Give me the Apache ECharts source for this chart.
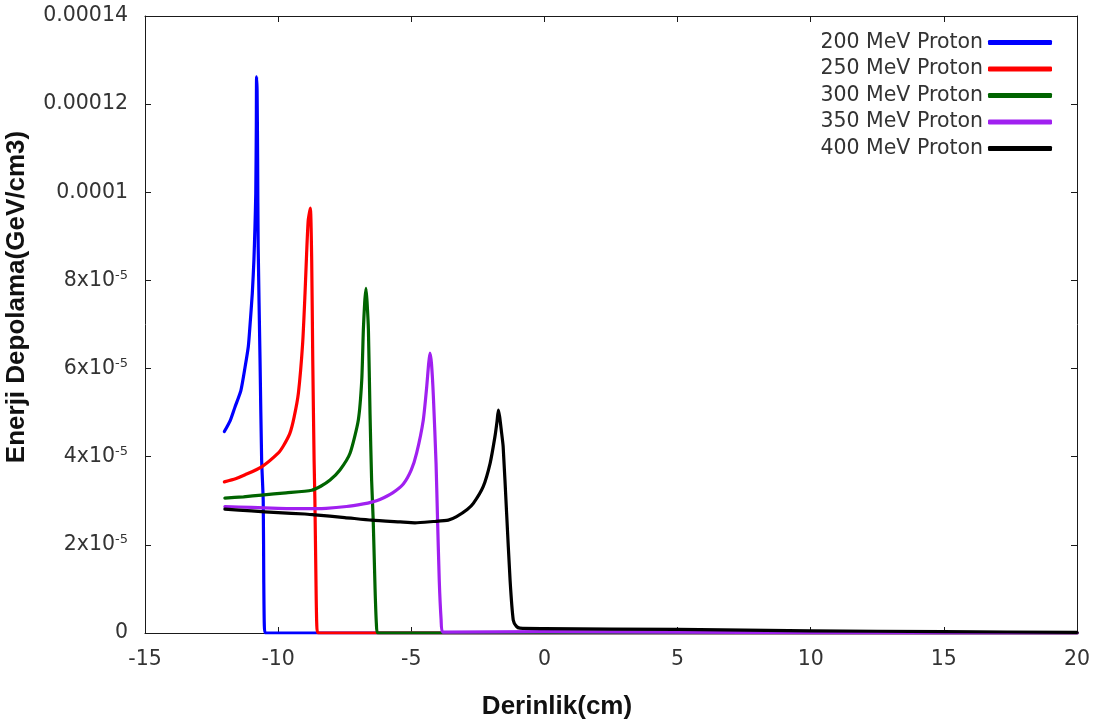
<!DOCTYPE html>
<html>
<head>
<meta charset="utf-8">
<script src="https://cdn.jsdelivr.net/npm/echarts@6/dist/echarts.min.js"></script>
<style>html,body{margin:0;padding:0;background:#fff;}#c{width:1105px;height:724px;}</style>
</head>
<body>
<div id="c"></div>
<script>
var seriesNames = ['200 MeV Proton','250 MeV Proton','300 MeV Proton','350 MeV Proton','400 MeV Proton'];
var xTickLabels = ['-15','-10','-5','0','5','10','15','20'];
var yTickLabels = ['0','2x10{sup|-5}','4x10{sup|-5}','6x10{sup|-5}','8x10{sup|-5}','0.0001','0.00012','0.00014'];

var x200 = [-12.02,-11.8,-11.62,-11.4,-11.24,-11.12,-11.06,-10.97,-10.91,-10.87,-10.84,-10.82,-10.81,-10.79,-10.77,-10.75,-10.68,-10.62,-10.56,-10.54,-10.52,-10.48,0,10,20];
var y200 = [4.57e-5,4.82e-5,5.13e-5,5.5e-5,6.04e-5,6.5e-5,6.95e-5,7.71e-5,8.46e-5,9.22e-5,9.98e-5,1.149e-4,1.262e-4,1.23e-4,1.073e-4,8.77e-5,6.19e-5,3.93e-5,3.0e-5,1.2e-5,2e-6,0,0,0,0];

var x250 = [-12.02,-11.6,-11.24,-10.62,-10.0,-9.8,-9.56,-9.4,-9.24,-9.08,-8.99,-8.93,-8.87,-8.79,-8.74,-8.70,-8.65,-8.62,-8.58,-8.55,-8.5,0,10,20];
var y250 = [3.43e-5,3.5e-5,3.59e-5,3.77e-5,4.08e-5,4.25e-5,4.53e-5,4.9e-5,5.44e-5,6.57e-5,7.71e-5,8.62e-5,9.37e-5,9.64e-5,8.46e-5,6.19e-5,3.93e-5,3.02e-5,1.2e-5,2e-6,0,0,0,0];

var x300 = [-12.0,-11.3,-10.62,-9.7,-8.74,-8.4,-8.05,-7.68,-7.30,-6.99,-6.86,-6.80,-6.75,-6.70,-6.66,-6.61,-6.55,-6.49,-6.43,-6.36,-6.31,-6.26,0,10,20];
var y300 = [3.06e-5,3.09e-5,3.13e-5,3.18e-5,3.24e-5,3.33e-5,3.47e-5,3.70e-5,4.08e-5,4.83e-5,5.74e-5,6.88e-5,7.5e-5,7.82e-5,7.5e-5,6.88e-5,4.99e-5,3.47e-5,2.56e-5,1.0e-5,2e-6,0,0,0,0];

var x350 = [-12.0,-11,-10,-9,-8.2,-7.43,-6.8,-6.49,-6.18,-5.7,-5.30,-5.0,-4.80,-4.55,-4.42,-4.35,-4.30,-4.24,-4.17,-4.07,-4.02,-3.95,-3.88,-3.82,0,10,20];
var y350 = [2.87e-5,2.85e-5,2.83e-5,2.82e-5,2.83e-5,2.87e-5,2.93e-5,2.97e-5,3.03e-5,3.18e-5,3.38e-5,3.7e-5,4.08e-5,4.83e-5,5.59e-5,6.1e-5,6.35e-5,6.1e-5,5.36e-5,3.85e-5,2.72e-5,1.2e-5,3e-6,2e-7,3e-7,1e-7,0];

var x400 = [-12.0,-11,-10,-9,-8.62,-7.5,-6.49,-5.42,-4.86,-4.17,-3.61,-3.30,-2.90,-2.67,-2.30,-2.04,-1.86,-1.78,-1.73,-1.68,-1.62,-1.55,-1.42,-1.29,-1.17,-1.05,-0.92,0,5,10,15,20];
var y400 = [2.81e-5,2.77e-5,2.73e-5,2.70e-5,2.68e-5,2.62e-5,2.56e-5,2.52e-5,2.50e-5,2.53e-5,2.56e-5,2.64e-5,2.8e-5,2.94e-5,3.32e-5,3.85e-5,4.45e-5,4.8e-5,5.06e-5,4.9e-5,4.6e-5,4.23e-5,2.72e-5,1.2e-5,2.9e-6,1.5e-6,1.1e-6,1.0e-6,8e-7,5e-7,3e-7,1.5e-7];

var colors = ['#0000ff','#ff0000','#006400','#a020f0','#000000'];
var xs = [x200,x250,x300,x350,x400];
var ys = [y200,y250,y300,y350,y400];

function zip(a,b){var r=[];for(var i=0;i<a.length;i++)r.push([a[i],b[i]]);return r;}

var chart = echarts.init(document.getElementById('c'));
var axisCol = '#1a1a1a';
var labCol = '#333';
var series = seriesNames.map(function(n,i){
  return {
    name:n, type:'line', data:zip(xs[i],ys[i]), showSymbol:false, symbol:'none',
    smooth:0.2,
    lineStyle:{color:colors[i],width:3.2,join:'round',cap:'round'}, itemStyle:{color:colors[i]}, z:2+i, animation:false
  };
});

chart.setOption({
  animation:false,
  backgroundColor:'#fff',
  grid:{left:145,right:28,top:16,bottom:91,containLabel:false},
  legend:{
    orient:'vertical', right:48, top:27, align:'right',
    icon:'roundRect', itemWidth:64, itemHeight:5, itemGap:5.5,
    textStyle:{fontFamily:'DejaVu Sans',fontSize:20.5,color:labCol,lineHeight:20},
    data:seriesNames
  },
  xAxis:[{
    type:'value', min:-15, max:20, interval:5,
    axisLine:{show:true,onZero:false,lineStyle:{color:axisCol,width:1}},
    axisTick:{show:true,inside:true,length:6,lineStyle:{color:axisCol}},
    axisLabel:{margin:16,fontFamily:'DejaVu Sans',fontSize:20.5,color:labCol,
      formatter:function(v,i){return xTickLabels[i];}},
    splitLine:{show:false}
  },{
    type:'value', position:'top', min:-15, max:20, interval:5,
    axisLine:{show:true,onZero:false,lineStyle:{color:axisCol,width:1}},
    axisTick:{show:true,inside:true,length:6,lineStyle:{color:axisCol}},
    axisLabel:{show:false}, splitLine:{show:false}
  }],
  yAxis:[{
    type:'value', min:0, max:0.00014, interval:0.00002,
    axisLine:{show:true,onZero:false,lineStyle:{color:axisCol,width:1}},
    axisTick:{show:true,inside:true,length:6,lineStyle:{color:axisCol}},
    axisLabel:{margin:17,fontFamily:'DejaVu Sans',fontSize:20.5,color:labCol,
      formatter:function(v,i){return yTickLabels[i];},
      rich:{sup:{fontFamily:'DejaVu Sans',fontSize:13,color:labCol,verticalAlign:'top',padding:[0,0,10,0]}}},
    splitLine:{show:false}
  },{
    type:'value', position:'right', min:0, max:0.00014, interval:0.00002,
    axisLine:{show:true,onZero:false,lineStyle:{color:axisCol,width:1}},
    axisTick:{show:true,inside:true,length:6,lineStyle:{color:axisCol}},
    axisLabel:{show:false}, splitLine:{show:false}
  }],
  graphic:[
    {type:'text', x:557, y:707, style:{text:'Derinlik(cm)',fontFamily:'Liberation Sans',fontWeight:'bold',fontSize:26,fill:'#111',align:'center',verticalAlign:'middle'}},
    {type:'text', x:17, y:297, rotation:Math.PI/2, style:{text:'Enerji Depolama(GeV/cm3)',fontFamily:'Liberation Sans',fontWeight:'bold',fontSize:26,fill:'#111',align:'center',verticalAlign:'middle'}}
  ],
  series:series
});
</script>
</body>
</html>
